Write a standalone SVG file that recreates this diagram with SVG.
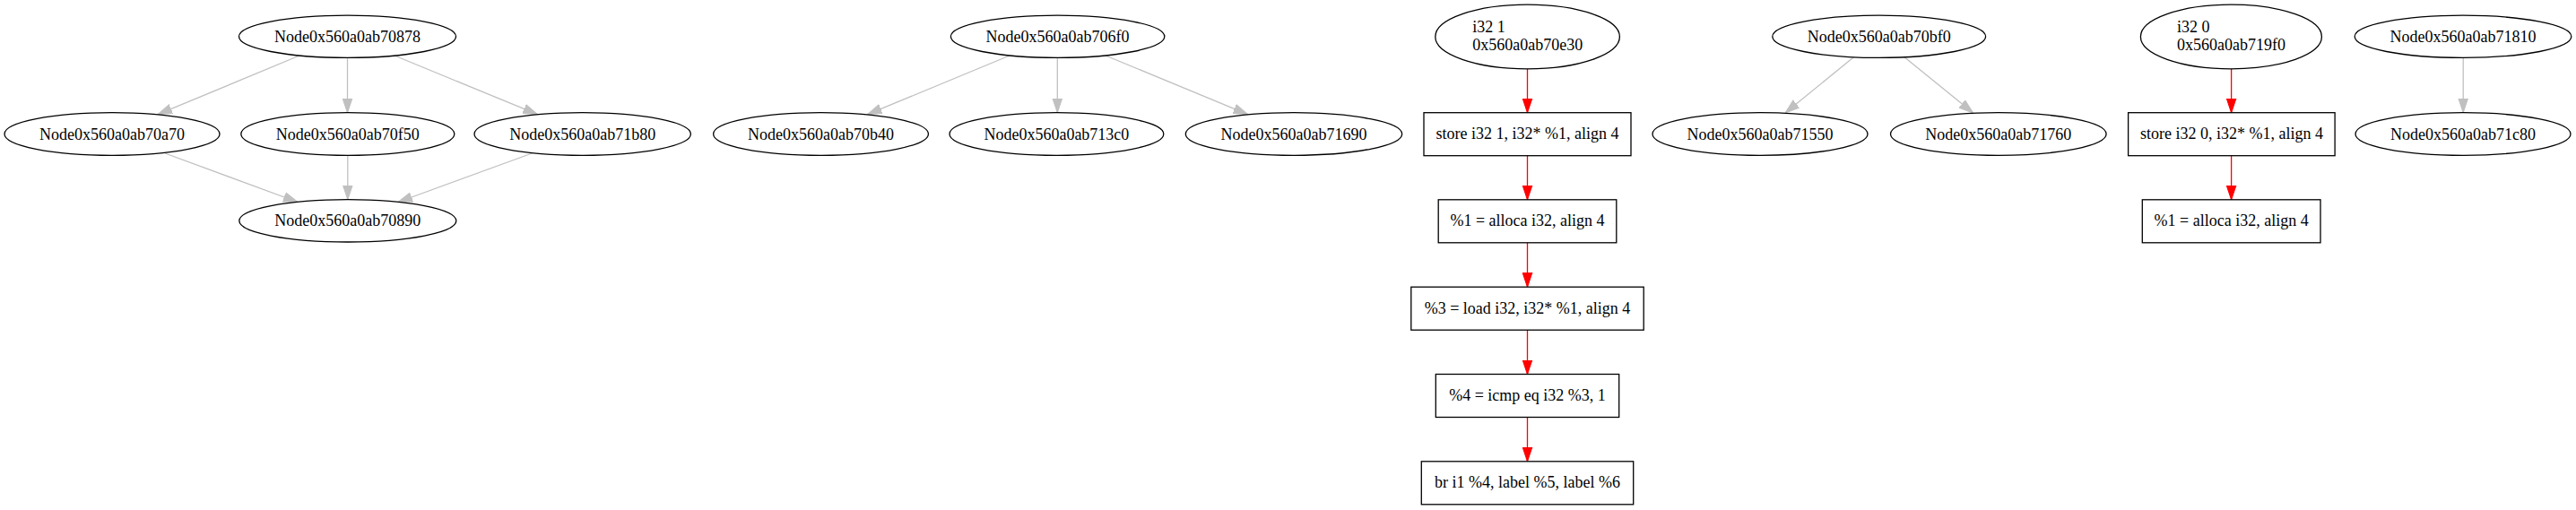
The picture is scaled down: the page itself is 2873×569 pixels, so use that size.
<svg xmlns="http://www.w3.org/2000/svg" width="2873" height="569" viewBox="0 0 2873 569">
<style>
  .n ellipse, .n rect { fill: none; stroke: #000; stroke-width: 1.3; }
  text { font-family: "Liberation Serif", "Times New Roman", serif; font-size: 18px; fill: #000; }
  .c { text-anchor: middle; }
  .g { stroke: #c0c0c0; stroke-width: 1.3; fill: none; marker-end: url(#ag); }
  .r { stroke: #ff0000; stroke-width: 1.3; fill: none; marker-end: url(#ar); }
</style>
<defs>
  <marker id="ag" markerUnits="userSpaceOnUse" markerWidth="16" markerHeight="12" viewBox="0 0 15 10" refX="15" refY="5" orient="auto">
    <polygon points="0,0 15,5 0,10" fill="#c0c0c0" stroke="#c0c0c0" stroke-width="1"/>
  </marker>
  <marker id="ar" markerUnits="userSpaceOnUse" markerWidth="16" markerHeight="12" viewBox="0 0 15 10" refX="15" refY="5" orient="auto">
    <polygon points="0,0 15,5 0,10" fill="#ff0000" stroke="#ff0000" stroke-width="1"/>
  </marker>
</defs>
<rect width="2873" height="569" fill="#fff"/>

<g id="edges">
  <path class="g" d="M334,62 L176,127.7"/>
  <path class="g" d="M387.5,64.3 L387.5,125.7"/>
  <path class="g" d="M440,62 L599.5,127.7"/>
  <path class="g" d="M184,171 L332,225.5"/>
  <path class="g" d="M387.8,173.3 L387.8,222.6"/>
  <path class="g" d="M593.4,171 L444,225.5"/>
  <path class="g" d="M1126,62 L967.5,127.7"/>
  <path class="g" d="M1179.3,64.3 L1179.3,125.6"/>
  <path class="g" d="M1233,62 L1391.6,127.7"/>
  <path class="g" d="M2067.4,63.7 L1991,126.1"/>
  <path class="g" d="M2124,63.7 L2200.7,126.1"/>
  <path class="g" d="M2747.2,64.3 L2747.2,125.6"/>
  <path class="r" d="M1703.5,76.8 L1703.5,125.7"/>
  <path class="r" d="M1703.5,173.7 L1703.5,222.8"/>
  <path class="r" d="M1703.5,270.8 L1703.5,320.2"/>
  <path class="r" d="M1703.5,368.2 L1703.5,417.5"/>
  <path class="r" d="M1703.5,465.5 L1703.5,514.8"/>
  <path class="r" d="M2488.6,76.8 L2488.6,125.7"/>
  <path class="r" d="M2488.6,173.7 L2488.6,222.8"/>
</g>

<g id="n70878" class="n"><ellipse cx="387.5" cy="40.8" rx="121" ry="23.6"/><text class="c" x="387.5" y="46.8">Node0x560a0ab70878</text></g>
<g id="n70a70" class="n"><ellipse cx="125" cy="149.5" rx="120" ry="23.8"/><text class="c" x="125" y="155.5">Node0x560a0ab70a70</text></g>
<g id="n70f50" class="n"><ellipse cx="387.8" cy="149.5" rx="119" ry="23.8"/><text class="c" x="387.8" y="155.5">Node0x560a0ab70f50</text></g>
<g id="n71b80" class="n"><ellipse cx="649.7" cy="149.5" rx="120.7" ry="23.8"/><text class="c" x="649.7" y="155.5">Node0x560a0ab71b80</text></g>
<g id="n70890" class="n"><ellipse cx="387.8" cy="246.3" rx="121" ry="23.7"/><text class="c" x="387.8" y="252.3">Node0x560a0ab70890</text></g>

<g id="n706f0" class="n"><ellipse cx="1179.6" cy="40.8" rx="119.2" ry="23.6"/><text class="c" x="1179.6" y="46.8">Node0x560a0ab706f0</text></g>
<g id="n70b40" class="n"><ellipse cx="915.5" cy="149.5" rx="119.9" ry="23.8"/><text class="c" x="915.5" y="155.5">Node0x560a0ab70b40</text></g>
<g id="n713c0" class="n"><ellipse cx="1178.4" cy="149.5" rx="119.4" ry="23.8"/><text class="c" x="1178.4" y="155.5">Node0x560a0ab713c0</text></g>
<g id="n71690" class="n"><ellipse cx="1443" cy="149.5" rx="120.7" ry="23.8"/><text class="c" x="1443" y="155.5">Node0x560a0ab71690</text></g>

<g id="n70e30" class="n"><ellipse cx="1703.6" cy="41" rx="102.8" ry="35.8"/><text x="1642.3" y="36">i32 1</text><text x="1642.3" y="55.5">0x560a0ab70e30</text></g>
<g id="store1" class="n"><rect x="1588" y="125.7" width="231" height="48"/><text class="c" x="1703.5" y="155.3">store i32 1, i32* %1, align 4</text></g>
<g id="alloca1" class="n"><rect x="1604.2" y="222.8" width="198.6" height="48"/><text class="c" x="1703.5" y="252.4">%1 = alloca i32, align 4</text></g>
<g id="load3" class="n"><rect x="1573.8" y="320.2" width="259.4" height="48"/><text class="c" x="1703.5" y="349.8">%3 = load i32, i32* %1, align 4</text></g>
<g id="icmp4" class="n"><rect x="1601.3" y="417.5" width="204.4" height="48"/><text class="c" x="1703.5" y="447.1">%4 = icmp eq i32 %3, 1</text></g>
<g id="br" class="n"><rect x="1585.3" y="514.8" width="236.4" height="48"/><text class="c" x="1703.5" y="544.4">br i1 %4, label %5, label %6</text></g>

<g id="n70bf0" class="n"><ellipse cx="2095.7" cy="40.8" rx="118.9" ry="23.6"/><text class="c" x="2095.7" y="46.8">Node0x560a0ab70bf0</text></g>
<g id="n71550" class="n"><ellipse cx="1963" cy="149.5" rx="120" ry="23.8"/><text class="c" x="1963" y="155.5">Node0x560a0ab71550</text></g>
<g id="n71760" class="n"><ellipse cx="2228.8" cy="149.5" rx="120.3" ry="23.8"/><text class="c" x="2228.8" y="155.5">Node0x560a0ab71760</text></g>

<g id="n719f0" class="n"><ellipse cx="2488.4" cy="41" rx="101" ry="35.8"/><text x="2428" y="36">i32 0</text><text x="2428" y="55.5">0x560a0ab719f0</text></g>
<g id="store0" class="n"><rect x="2373.6" y="125.7" width="230.5" height="48"/><text class="c" x="2488.9" y="155.3">store i32 0, i32* %1, align 4</text></g>
<g id="alloca0" class="n"><rect x="2389.3" y="222.8" width="198.7" height="48"/><text class="c" x="2488.6" y="252.4">%1 = alloca i32, align 4</text></g>

<g id="n71810" class="n"><ellipse cx="2747" cy="40.8" rx="120.8" ry="23.6"/><text class="c" x="2747" y="46.8">Node0x560a0ab71810</text></g>
<g id="n71c80" class="n"><ellipse cx="2747" cy="149.5" rx="120" ry="23.8"/><text class="c" x="2747" y="155.5">Node0x560a0ab71c80</text></g>
</svg>
